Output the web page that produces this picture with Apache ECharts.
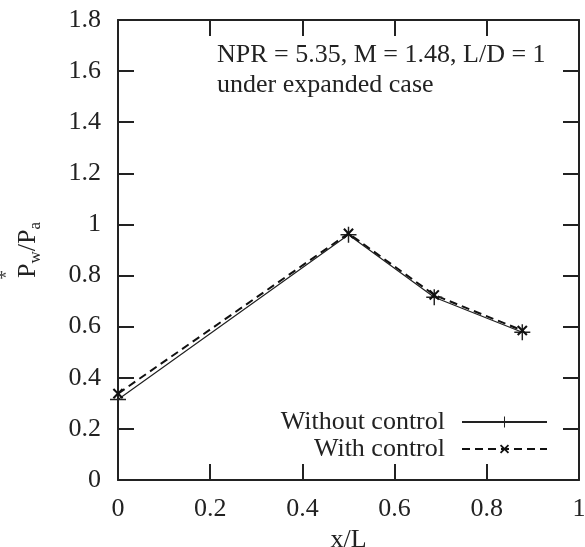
<!DOCTYPE html>
<html><head><meta charset="utf-8">
<script src="https://cdn.jsdelivr.net/npm/echarts@6/dist/echarts.min.js"></script>
<style>html,body{margin:0;padding:0;background:#fff}#c{width:585px;height:547px}</style>
</head><body><div id="c"></div>
<script>
const xWithout = [0, 0.5, 0.686, 0.877];
const yWithout = [0.315, 0.96, 0.715, 0.578];
const xWith = [0, 0.5, 0.686, 0.877];
const yWith = [0.338, 0.965, 0.724, 0.585];
const seriesNames = ['Without control', 'With control'];
const annotation = ['NPR = 5.35, M = 1.48, L/D = 1', 'under expanded case'];

const font = 'Liberation Serif';
const FS = 26;
const plusPath = 'path://M-0.09,-1L0.09,-1L0.09,-0.09L1,-0.09L1,0.09L0.09,0.09L0.09,1L-0.09,1L-0.09,0.09L-1,0.09L-1,-0.09L-0.09,-0.09Z';
const crossPath = 'path://M-0.16,-1L0.16,-1L0.16,-0.16L1,-0.16L1,0.16L0.16,0.16L0.16,1L-0.16,1L-0.16,0.16L-1,0.16L-1,-0.16L-0.16,-0.16Z';

const chart = echarts.init(document.getElementById('c'), null, {renderer: 'canvas'});
const axisLine = {show: true, onZero: false, lineStyle: {color: '#222', width: 2}};
const tick = {show: true, inside: true, length: 16, lineStyle: {color: '#222', width: 2}};
chart.setOption({
  animation: false,
  backgroundColor: '#fff',
  textStyle: {fontFamily: font},
  grid: {left: 118, top: 20, right: 6, bottom: 67, containLabel: false, outerBoundsMode: 'none'},
  legend: {
    orient: 'vertical', align: 'right', right: 32, top: 404,
    itemWidth: 85, itemHeight: 14, itemGap: 1,
    textStyle: {fontFamily: font, fontSize: FS, color: '#222', lineHeight: 26, padding: [0, 12, 0, 0]},
    data: seriesNames
  },
  xAxis: [{
    type: 'value', min: 0, max: 1, interval: 0.2, position: 'bottom',
    axisLine: axisLine, axisTick: tick, splitLine: {show: false},
    axisLabel: {fontFamily: font, fontSize: FS, color: '#222', margin: 16},
    name: 'x/L', nameLocation: 'middle', nameGap: 40,
    nameTextStyle: {fontFamily: font, fontSize: FS, color: '#222'}
  }, {
    type: 'value', min: 0, max: 1, interval: 0.2, position: 'top',
    axisLine: axisLine, axisTick: tick, splitLine: {show: false}, axisLabel: {show: false}
  }],
  yAxis: [{
    type: 'value', min: 0, max: 1.8, interval: 0.2, position: 'left',
    axisLine: axisLine, axisTick: tick, splitLine: {show: false},
    axisLabel: {fontFamily: font, fontSize: FS, color: '#222', margin: 17,
      formatter: v => String(Math.round(v * 10) / 10)},
    name: '{b|P}{s|w}{b|/P}{s|a}', nameLocation: 'middle', nameGap: 74,
    nameTextStyle: {fontFamily: font, fontSize: FS, color: '#222',
      rich: {b: {fontFamily: font, fontSize: FS, color: '#222'},
             s: {fontFamily: font, fontSize: 17, color: '#222', verticalAlign: 'bottom', padding: [14, 0, 0, 0]}}}
  }, {
    type: 'value', min: 0, max: 1.8, interval: 0.2, position: 'right',
    axisLine: axisLine, axisTick: tick, splitLine: {show: false}, axisLabel: {show: false}
  }],
  graphic: [{
    type: 'text', left: 217, top: 42,
    style: {text: annotation[0], font: FS + 'px "Liberation Serif"', fill: '#222'}
  }, {
    type: 'text', left: 217, top: 72,
    style: {text: annotation[1], font: FS + 'px "Liberation Serif"', fill: '#222'}
  }, {
    type: 'text', left: -4, top: 268,
    style: {text: '*', font: '22px "Liberation Serif"', fill: '#444'}
  }],
  series: [{
    name: seriesNames[0], type: 'line', xAxisIndex: 0, yAxisIndex: 0,
    data: xWithout.map((x, i) => [x, yWithout[i]]),
    symbol: plusPath, symbolSize: 16, showAllSymbol: true,
    lineStyle: {color: '#222', width: 1.2},
    itemStyle: {color: '#222'}
  }, {
    name: seriesNames[1], type: 'line', xAxisIndex: 0, yAxisIndex: 0,
    data: xWith.map((x, i) => [x, yWith[i]]),
    symbol: crossPath, symbolSize: 13, symbolRotate: 45, showAllSymbol: true,
    lineStyle: {color: '#111', width: 2, type: [8, 5]},
    itemStyle: {color: '#111'}
  }]
});
</script></body></html>
